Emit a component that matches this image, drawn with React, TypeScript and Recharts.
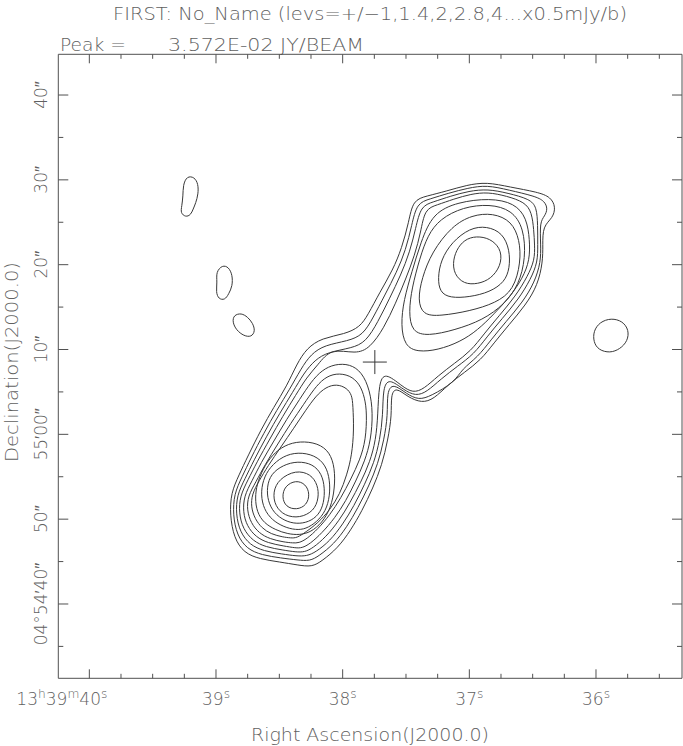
import React from 'react';
import { ComposedChart, Line, Scatter, XAxis, YAxis } from 'recharts';

// RA in seconds of 13h39m, Dec in arcsec above +04°54'00"
const RA_DOMAIN: [number, number] = [35.321, 40.245];
const DEC_DOMAIN: [number, number] = [31.24, 104.8];

const raTicks = [35.5, 35.75, 36, 36.25, 36.5, 36.75, 37, 37.25, 37.5, 37.75, 38, 38.25, 38.5, 38.75, 39, 39.25, 39.5, 39.75, 40];
const decTicks = [35, 40, 45, 50, 55, 60, 65, 70, 75, 80, 85, 90, 95, 100];

const raLabels: Record<number, string> = { 40: '13^h39^m40^s', 39: '39^s', 38: '38^s', 37: '37^s', 36: '36^s' };
const decLabels: Record<number, string> = { 100: '40″', 90: '30″', 80: '20″', 70: '10″', 60: '55′00″', 50: '50″', 40: '04°54′40″' };

// source position marker
const crossPos = [{ ra: 37.746, dec: 68.52 }];

// isolated faint blobs
const blobA = [[39.23, 90.45], [39.17, 90.33], [39.14, 89.5], [39.14, 88.33], [39.16, 87.26], [39.18, 86.56], [39.2, 85.85], [39.24, 85.61], [39.28, 86.09], [39.27, 86.91], [39.26, 88.09], [39.26, 89.39]];
const blobB = [[38.95, 79.96], [38.9, 79.72], [38.87, 78.78], [38.87, 77.48], [38.9, 76.54], [38.93, 75.83], [38.98, 75.95], [39.0, 76.77], [38.99, 77.95], [39.0, 79.13]];
const blobC = [[38.86, 74.06], [38.8, 74.3], [38.75, 73.83], [38.71, 73.12], [38.69, 72.18], [38.72, 71.47], [38.78, 71.59], [38.84, 72.29], [38.87, 73.24]];
const blobD = [[35.97, 73.24], [35.88, 73.71], [35.79, 73.35], [35.74, 72.29], [35.75, 71.0], [35.81, 70.05], [35.89, 69.58], [35.98, 69.94], [36.02, 70.88], [36.02, 72.18]];

// contours enclosing both lobes (lowest four levels)
const level1 = [[37.446, 87.62], [37.336, 88.09], [37.178, 88.68], [37.02, 89.39], [36.862, 89.74], [36.681, 89.15], [36.46, 88.56], [36.357, 87.97], [36.318, 86.79], [36.341, 85.5], [36.42, 84.55], [36.42, 82.31], [36.42, 80.31], [36.46, 77.6], [36.555, 75.24], [36.689, 72.88], [36.806, 70.76], [36.909, 68.76], [37.036, 67.34], [37.17, 65.81], [37.28, 64.16], [37.375, 63.69], [37.486, 64.4], [37.581, 65.58], [37.62, 64.63], [37.612, 62.27], [37.643, 59.33], [37.69, 56.38], [37.761, 53.67], [37.848, 50.96], [37.935, 48.72], [38.038, 46.6], [38.164, 45.06], [38.243, 44.36], [38.354, 44.59], [38.496, 44.95], [38.654, 45.3], [38.779, 46.01], [38.858, 47.78], [38.89, 50.49], [38.882, 53.08], [38.819, 55.2], [38.748, 57.44], [38.646, 60.51], [38.543, 63.22], [38.441, 65.69], [38.362, 68.29], [38.283, 70.17], [38.164, 71.35], [37.983, 71.82], [37.864, 72.65], [37.801, 74.06], [37.706, 76.77], [37.604, 79.37], [37.533, 81.96], [37.478, 85.02]];
const level2 = [[37.415, 87.26], [37.312, 87.74], [37.162, 88.44], [37.012, 89.03], [36.862, 89.39], [36.689, 88.8], [36.484, 88.09], [36.405, 87.5], [36.381, 86.56], [36.405, 85.73], [36.444, 85.02], [36.436, 82.31], [36.436, 80.31], [36.484, 77.95], [36.578, 75.59], [36.713, 73.24], [36.83, 71.12], [36.933, 69.11], [37.059, 67.7], [37.115, 66.16], [37.304, 64.51], [37.399, 64.04], [37.494, 64.75], [37.604, 66.05], [37.651, 64.99], [37.643, 62.27], [37.674, 59.33], [37.722, 56.5], [37.793, 53.91], [37.88, 51.31], [37.967, 49.07], [38.069, 47.07], [38.188, 45.65], [38.259, 45.06], [38.354, 45.18], [38.488, 45.42], [38.638, 45.77], [38.756, 46.48], [38.835, 48.13], [38.866, 50.49], [38.858, 52.96], [38.795, 54.97], [38.724, 57.21], [38.622, 60.15], [38.52, 62.86], [38.417, 65.34], [38.33, 67.7], [38.251, 69.46], [38.141, 70.53], [37.959, 71.0], [37.84, 71.71], [37.761, 73.71], [37.667, 76.42], [37.573, 79.13], [37.502, 81.72], [37.454, 84.67]];
const level3 = [[37.383, 86.91], [37.288, 87.38], [37.146, 88.09], [37.004, 88.68], [36.854, 88.92], [36.697, 88.44], [36.523, 87.74], [36.468, 86.79], [36.46, 84.67], [36.46, 82.31], [36.46, 80.31], [36.515, 78.31], [36.61, 75.95], [36.744, 73.59], [36.862, 71.47], [36.964, 69.46], [37.091, 68.05], [37.225, 66.52], [37.336, 64.99], [37.423, 64.51], [37.517, 65.22], [37.635, 66.64], [37.682, 65.46], [37.682, 62.27], [37.706, 59.33], [37.753, 56.62], [37.825, 54.14], [37.911, 51.55], [37.998, 49.42], [38.101, 47.42], [38.212, 46.12], [38.283, 45.65], [38.362, 45.65], [38.48, 45.89], [38.622, 46.24], [38.732, 46.95], [38.811, 48.48], [38.843, 50.6], [38.835, 52.84], [38.772, 54.73], [38.7, 56.97], [38.599, 59.8], [38.496, 62.51], [38.393, 64.99], [38.306, 67.22], [38.22, 68.76], [38.117, 69.7], [37.927, 70.17], [37.817, 70.88], [37.722, 73.24], [37.628, 76.07], [37.541, 78.78], [37.47, 81.49], [37.423, 84.32]];
const level4 = [[37.352, 86.56], [37.257, 87.03], [37.122, 87.74], [36.988, 88.33], [36.854, 88.56], [36.705, 88.09], [36.563, 87.38], [36.507, 86.2], [36.491, 84.08], [36.484, 82.31], [36.484, 80.55], [36.539, 78.66], [36.634, 76.3], [36.767, 73.94], [36.885, 71.82], [36.988, 69.82], [37.115, 68.4], [37.249, 66.87], [37.359, 65.34], [37.446, 64.87], [37.533, 65.69], [37.667, 67.34], [37.714, 66.05], [37.722, 62.27], [37.738, 59.33], [37.785, 56.73], [37.856, 54.38], [37.943, 51.9], [38.03, 49.78], [38.133, 47.89], [38.235, 46.6], [38.299, 46.12], [38.37, 46.12], [38.472, 46.36], [38.607, 46.71], [38.708, 47.42], [38.787, 48.84], [38.819, 50.72], [38.811, 52.73], [38.748, 54.61], [38.677, 56.73], [38.575, 59.45], [38.472, 62.16], [38.37, 64.63], [38.283, 66.75], [38.196, 68.17], [38.093, 70.17], [37.896, 69.46], [37.785, 70.17], [37.674, 72.53], [37.581, 75.48], [37.502, 78.31], [37.431, 81.13], [37.383, 83.85]];

// northern lobe, outer to inner
const north5 = [[37.288, 86.09], [37.091, 87.38], [36.838, 87.85], [36.642, 87.26], [36.547, 85.5], [36.523, 82.9], [36.523, 80.55], [36.578, 78.42], [36.681, 76.18], [36.806, 74.18], [36.933, 72.29], [37.075, 70.88], [37.249, 69.94], [37.407, 69.7], [37.51, 70.41], [37.541, 72.88], [37.518, 75.83], [37.454, 79.13], [37.383, 82.67]];
const north4 = [[37.233, 85.38], [37.051, 86.79], [36.838, 87.15], [36.665, 86.44], [36.57, 84.32], [36.555, 80.78], [36.61, 77.6], [36.721, 75.36], [36.893, 73.47], [37.115, 72.29], [37.328, 71.59], [37.454, 72.06], [37.478, 74.42], [37.454, 77.24], [37.391, 80.78], [37.328, 83.49]];
const north3 = [[37.138, 84.55], [36.98, 85.85], [36.814, 86.09], [36.665, 85.14], [36.602, 82.9], [36.594, 80.31], [36.649, 77.01], [36.791, 75.48], [36.996, 74.53], [37.233, 73.94], [37.367, 74.06], [37.407, 75.83], [37.375, 78.42], [37.296, 81.49]];
const north2 = [[36.996, 84.32], [36.862, 84.55], [36.736, 83.73], [36.681, 81.72], [36.681, 79.6], [36.721, 77.95], [36.838, 76.77], [36.996, 76.18], [37.154, 76.07], [37.233, 76.77], [37.249, 78.42], [37.225, 80.55], [37.138, 82.67]];
const north1 = [[36.917, 83.38], [36.814, 82.9], [36.744, 81.61], [36.752, 79.84], [36.83, 78.31], [36.933, 77.71], [37.043, 77.71], [37.122, 78.9], [37.13, 80.55], [37.091, 82.08], [37.02, 83.14]];

// southern lobe, outer to inner
const south5 = [[37.761, 62.51], [37.777, 59.33], [37.825, 56.85], [37.896, 54.49], [37.975, 52.14], [38.062, 50.13], [38.164, 48.36], [38.259, 47.07], [38.322, 46.6], [38.37, 46.6], [38.464, 46.83], [38.591, 47.19], [38.685, 47.89], [38.756, 49.19], [38.787, 50.84], [38.779, 52.73], [38.716, 54.49], [38.646, 56.62], [38.543, 59.21], [38.441, 61.8], [38.338, 64.16], [38.251, 66.16], [38.164, 67.58], [38.062, 68.29], [37.943, 68.29], [37.848, 67.34], [37.785, 65.22]];
const south6 = [[37.809, 62.51], [37.817, 59.33], [37.864, 56.97], [37.935, 54.73], [38.014, 52.49], [38.101, 50.49], [38.196, 48.84], [38.283, 47.66], [38.346, 47.19], [38.393, 47.19], [38.464, 47.3], [38.575, 47.66], [38.661, 48.36], [38.724, 49.54], [38.756, 51.08], [38.748, 52.73], [38.685, 54.38], [38.615, 56.38], [38.512, 58.86], [38.409, 61.33], [38.306, 63.57], [38.227, 65.34], [38.148, 66.64], [38.054, 67.22], [37.943, 66.99], [37.864, 65.93], [37.825, 64.28]];
const south7 = [[37.919, 63.45], [37.911, 60.51], [37.927, 57.56], [37.967, 55.2], [38.022, 52.96], [38.101, 51.08], [38.196, 49.54], [38.291, 48.48], [38.362, 47.78], [38.409, 47.78], [38.472, 47.89], [38.567, 48.25], [38.638, 48.95], [38.692, 50.01], [38.724, 51.43], [38.716, 52.96], [38.661, 54.49], [38.591, 56.26], [38.488, 58.5], [38.385, 60.74], [38.291, 62.86], [38.212, 64.51], [38.133, 65.58], [38.046, 65.93], [37.967, 65.46], [37.927, 64.63]];
const south8 = [[38.338, 59.21], [38.196, 58.97], [38.101, 57.91], [38.062, 56.03], [38.062, 53.67], [38.093, 51.31], [38.164, 49.54], [38.251, 48.48], [38.338, 48.13], [38.433, 48.25], [38.528, 48.72], [38.622, 49.54], [38.677, 50.84], [38.692, 52.49], [38.677, 54.14], [38.63, 55.91], [38.559, 57.56], [38.457, 58.74]];
const south9 = [[38.354, 57.91], [38.22, 57.56], [38.133, 56.38], [38.101, 54.61], [38.101, 52.73], [38.133, 50.96], [38.204, 49.66], [38.291, 48.84], [38.37, 48.72], [38.464, 49.07], [38.559, 49.9], [38.622, 51.19], [38.646, 52.84], [38.63, 54.61], [38.575, 56.15], [38.472, 57.44]];
const south10 = [[38.354, 56.85], [38.235, 56.5], [38.164, 55.32], [38.141, 53.67], [38.148, 51.9], [38.188, 50.49], [38.267, 49.66], [38.362, 49.42], [38.457, 49.78], [38.543, 50.72], [38.591, 52.14], [38.599, 53.79], [38.567, 55.32], [38.472, 56.38]];
const south11 = [[38.37, 55.79], [38.251, 55.32], [38.196, 54.02], [38.188, 52.49], [38.227, 50.96], [38.338, 50.13], [38.457, 50.37], [38.535, 51.55], [38.551, 53.2], [38.504, 54.73]];
const south12 = [[38.37, 54.61], [38.291, 54.14], [38.259, 52.96], [38.283, 51.66], [38.362, 51.08], [38.449, 51.43], [38.48, 52.61], [38.457, 53.91]];

const blobs = [blobA, blobB, blobC, blobD];
const contours = [level1, level2, level3, level4, north5, north4, north3, north2, north1, south5, south6, south7, south8, south9, south10, south11, south12];

const INK = '#383838';
const AX = '#505050';
const TXT = '#606060';
const FONT = '"DejaVu Sans", sans-serif';

const toPts = (a: number[][]) => a.map(([ra, dec]) => ({ ra, dec }));

const isMajor = (v: number, step: number) => Math.abs(v / step - Math.round(v / step)) < 1e-6;

// "13^h39^m" -> text with raised letters
const supText = (s: string, size: number) => {
  const out: React.ReactNode[] = [];
  let raised = false;
  for (let i = 0; i < s.length; i++) {
    if (s[i] === '^') {
      out.push(<tspan key={i} dy={-7} fontSize={size * 0.72}>{s[i + 1]}</tspan>);
      raised = true;
      i++;
    } else {
      let j = i;
      while (j < s.length && s[j] !== '^') j++;
      out.push(<tspan key={i} dy={raised ? 7 : 0} fontSize={size}>{s.slice(i, j)}</tspan>);
      raised = false;
      i = j - 1;
    }
  }
  return out;
};

const RaTick = (props: any) => {
  const { x, y, payload, side } = props;
  const v = payload.value;
  const major = isMajor(v, 1);
  const len = major ? 9 : 4.5;
  const dir = side === 'bottom' ? -1 : 1;
  const label = raLabels[Math.round(v)];
  return (
    <g>
      <line x1={x} x2={x} y1={y} y2={y + dir * len} stroke={AX} strokeWidth={1} />
      {side === 'bottom' && major && label && (
        <text x={v === 40 ? x + 18 : x} y={y + 27} textAnchor={v === 40 ? 'end' : 'middle'} fill={TXT} fontFamily={FONT} fontWeight={200}>
          {supText(label, 17)}
        </text>
      )}
    </g>
  );
};

const DecTick = (props: any) => {
  const { x, y, payload, side } = props;
  const v = payload.value;
  const major = isMajor(v, 10);
  const len = major ? 10 : 5;
  const dir = side === 'left' ? 1 : -1;
  const label = decLabels[v];
  return (
    <g>
      <line x1={x} x2={x + dir * len} y1={y} y2={y} stroke={AX} strokeWidth={1} />
      {side === 'left' && major && label && (
        <text x={47} y={y} transform={`rotate(-90 47 ${y})`} textAnchor="middle" fill={TXT} fontFamily={FONT} fontWeight={200} fontSize={17}>
          {label}
        </text>
      )}
    </g>
  );
};

const CrossShape = (props: any) => {
  const { cx, cy } = props;
  return (
    <g>
      <line x1={cx - 12} x2={cx + 12} y1={cy} y2={cy} stroke={INK} strokeWidth={1} />
      <line x1={cx} x2={cx} y1={cy - 12} y2={cy + 12} stroke={INK} strokeWidth={1} />
    </g>
  );
};

export default function App() {
  return (
    <div style={{ position: 'absolute', left: 0, top: 0, width: 683, height: 746, background: '#fff' }}>
      <ComposedChart width={683} height={746} margin={{ top: 53.3, right: 0, bottom: 66.7, left: 57.3 }}>
        <XAxis xAxisId="b" type="number" dataKey="ra" domain={RA_DOMAIN} reversed allowDataOverflow ticks={raTicks} interval={0}
          height={1} tickSize={0} tickMargin={0} tickLine={false} axisLine={{ stroke: AX }} tick={(p: any) => <RaTick {...p} side="bottom" />} />
        <XAxis xAxisId="t" orientation="top" type="number" dataKey="ra" domain={RA_DOMAIN} reversed allowDataOverflow ticks={raTicks} interval={0}
          height={1} tickSize={0} tickMargin={0} tickLine={false} axisLine={{ stroke: AX }} tick={(p: any) => <RaTick {...p} side="top" />} />
        <YAxis yAxisId="l" type="number" dataKey="dec" domain={DEC_DOMAIN} allowDataOverflow ticks={decTicks} interval={0}
          width={1} tickSize={0} tickMargin={0} tickLine={false} axisLine={{ stroke: AX }} tick={(p: any) => <DecTick {...p} side="left" />} />
        <YAxis yAxisId="r" orientation="right" type="number" dataKey="dec" domain={DEC_DOMAIN} allowDataOverflow ticks={decTicks} interval={0}
          width={1} tickSize={0} tickMargin={0} tickLine={false} axisLine={{ stroke: AX }} tick={(p: any) => <DecTick {...p} side="right" />} />

        {contours.map((c, i) => (
          <Line key={`c${i}`} xAxisId="b" yAxisId="l" data={toPts(c)} dataKey="dec" type="basisClosed"
            stroke={INK} strokeWidth={1} dot={false} activeDot={false} isAnimationActive={false} />
        ))}
        {blobs.map((c, i) => (
          <Line key={`b${i}`} xAxisId="t" yAxisId="r" data={toPts(c)} dataKey="dec" type="basisClosed"
            stroke={INK} strokeWidth={1} dot={false} activeDot={false} isAnimationActive={false} />
        ))}
        <Scatter xAxisId="b" yAxisId="l" data={crossPos} dataKey="dec" shape={CrossShape} isAnimationActive={false} />

        <text x={370} y={20} textAnchor="middle" fill={TXT} fontFamily={FONT} fontWeight={200} fontSize={17} textLength={514} lengthAdjust="spacingAndGlyphs">
          FIRST: No_Name (levs=+/−1,1.4,2,2.8,4...x0.5mJy/b)
        </text>
        <text x={60} y={51} fill={TXT} fontFamily={FONT} fontWeight={200} fontSize={17} textLength={66} lengthAdjust="spacingAndGlyphs">Peak =</text>
        <text x={168} y={51} fill={TXT} fontFamily={FONT} fontWeight={200} fontSize={17} textLength={196} lengthAdjust="spacingAndGlyphs">3.572E-02 JY/BEAM</text>
        <text x={370} y={741} textAnchor="middle" fill={TXT} fontFamily={FONT} fontWeight={200} fontSize={17} textLength={238} lengthAdjust="spacingAndGlyphs">
          Right Ascension(J2000.0)
        </text>
        <text x={18} y={362} transform="rotate(-90 18 362)" textAnchor="middle" fill={TXT} fontFamily={FONT} fontWeight={200} fontSize={17} textLength={200} lengthAdjust="spacingAndGlyphs">
          Declination(J2000.0)
        </text>
      </ComposedChart>
    </div>
  );
}
